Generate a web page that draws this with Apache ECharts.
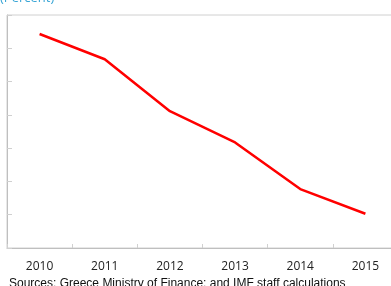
<!DOCTYPE html>
<html>
<head>
<meta charset="utf-8">
<style>html,body{margin:0;padding:0;background:#fff;}#c{width:391px;height:286px;}</style>
<script src="https://cdn.jsdelivr.net/npm/echarts@6/dist/echarts.min.js"></script>
</head>
<body>
<div id="c"></div>
<script>
var categories = ['2010', '2011', '2012', '2013', '2014', '2015'];
var values = [6.43, 5.67, 4.11, 3.17, 1.77, 1.03];
var titleText = '(Percent)';
var sourceText = 'Sources: Greece Ministry of Finance; and IMF staff calculations';

var chart = echarts.init(document.getElementById('c'), null, {renderer: 'canvas'});
chart.setOption({
  animation: false,
  backgroundColor: '#ffffff',
  grid: {
    left: 7, top: 15, right: -7, bottom: 38,
    outerBoundsMode: 'none',
    containLabel: false,
    show: true, borderColor: '#d0d0d0', borderWidth: 1, backgroundColor: 'transparent'
  },
  xAxis: {
    type: 'category',
    data: categories,
    boundaryGap: true,
    axisLine: {show: true, lineStyle: {color: '#bfbfbf', width: 1}},
    axisTick: {show: true, inside: true, length: 4, lineStyle: {color: '#d0d0d0'}},
    axisLabel: {color: '#222', fontSize: 12, fontFamily: 'Open Sans', margin: 13},
    splitLine: {show: false}
  },
  yAxis: {
    type: 'value',
    min: 0, max: 7, interval: 1,
    axisLine: {show: true, lineStyle: {color: '#bfbfbf', width: 1}},
    axisTick: {show: true, inside: true, length: 5, lineStyle: {color: '#d0d0d0'}},
    axisLabel: {show: false},
    splitLine: {show: false}
  },
  graphic: [
    {type: 'text', x: 0, y: -8, style: {text: titleText, fill: '#3aa6d6', fontSize: 13, fontFamily: 'Open Sans', verticalAlign: 'top'}},
    {type: 'text', x: 9, y: 278, style: {text: sourceText, fill: '#111', fontSize: 12, fontFamily: 'Liberation Sans', verticalAlign: 'top'}}
  ],
  series: [{
    type: 'line',
    data: values,
    showSymbol: false,
    symbol: 'none',
    lineStyle: {color: '#ff0000', width: 2.5}
  }]
});
</script>
</body>
</html>
